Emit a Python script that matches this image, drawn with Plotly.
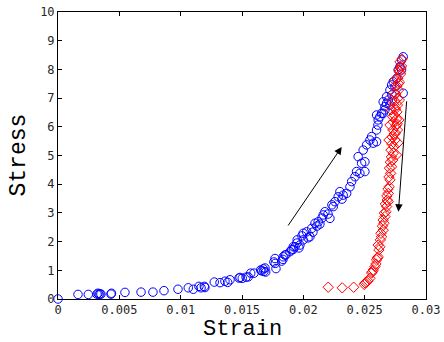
import plotly.graph_objects as go

# Loading branch (blue circles)
load_strain = [0, 0.00163, 0.00247, 0.00318, 0.00326, 0.00334, 0.00342, 0.0035, 0.00436, 0.00432,
    0.00546, 0.00677, 0.00774, 0.00864, 0.00978, 0.01062, 0.01103, 0.01149, 0.01166, 0.01193,
    0.01198, 0.01274, 0.01321, 0.01361, 0.01383, 0.01402, 0.01476, 0.01484, 0.01502, 0.01533,
    0.01551, 0.01571, 0.01598, 0.01652, 0.01661, 0.01674, 0.01687, 0.01693, 0.01679, 0.01771,
    0.01769, 0.01777, 0.0176, 0.01823, 0.01836, 0.0185, 0.01858, 0.01834, 0.01891, 0.01905,
    0.01918, 0.01932, 0.01918, 0.0195, 0.01948, 0.01972, 0.01964, 0.01999, 0.01999, 0.01989,
    0.02027, 0.02054, 0.02038, 0.02068, 0.02078, 0.02095, 0.02121, 0.02111, 0.02135, 0.02162,
    0.02176, 0.02152, 0.02217, 0.02201, 0.02244, 0.02258, 0.02233, 0.02284, 0.02298, 0.02325,
    0.02353, 0.02315, 0.0238, 0.02394, 0.02421, 0.02434, 0.02461, 0.02502, 0.02475, 0.02502,
    0.02447, 0.02488, 0.02516, 0.02543, 0.0257, 0.02557, 0.02597, 0.02597, 0.0261, 0.02597,
    0.02624, 0.02651, 0.02665, 0.02679, 0.02706, 0.02638, 0.02651, 0.02692, 0.02679, 0.02706,
    0.02747, 0.0272, 0.02733, 0.02761, 0.02774, 0.02801, 0.02787, 0.02801, 0.02814, 0.02814,
    0.02722, 0.02665, 0.02608]
load_stress = [0, 0.16, 0.16, 0.17, 0.20, 0.16, 0.18, 0.17, 0.20, 0.17,
    0.23, 0.24, 0.24, 0.29, 0.34, 0.39, 0.34, 0.44, 0.39, 0.44,
    0.40, 0.59, 0.57, 0.62, 0.58, 0.67, 0.73, 0.75, 0.72, 0.76,
    0.77, 0.90, 0.90, 1.01, 0.98, 1.05, 1.08, 0.94, 0.96, 1.24,
    1.41, 1.06, 1.29, 1.32, 1.47, 1.53, 1.54, 1.38, 1.65, 1.71,
    1.73, 1.82, 1.82, 2.06, 1.95, 1.88, 1.78, 2.06, 2.29, 2.20,
    2.34, 2.17, 2.13, 2.46, 2.33, 2.64, 2.69, 2.54, 2.61, 2.93,
    3.04, 2.82, 2.81, 2.96, 3.22, 3.39, 3.28, 3.56, 3.74, 3.62,
    3.68, 3.48, 3.91, 4.09, 4.26, 4.44, 4.38, 4.44, 4.73, 4.78,
    4.96, 5.19, 5.37, 5.54, 5.43, 5.66, 5.48, 5.89, 6.24, 6.41,
    6.35, 6.47, 6.70, 6.82, 6.76, 6.47, 6.87, 6.93, 7.05, 7.28,
    7.40, 7.46, 7.57, 7.69, 7.98, 7.98, 8.09, 8.33, 8.44, 7.17,
    7.11, 6.59, 6.06]

# Unloading branch (red diamonds)
unload_strain = [0.02203, 0.02317, 0.0241, 0.02496, 0.02504, 0.02516, 0.02527, 0.02543, 0.02557, 0.02563,
    0.0257, 0.02584, 0.02592, 0.02597, 0.02604, 0.0261, 0.0261, 0.02616, 0.02624, 0.02628,
    0.02638, 0.02633, 0.02651, 0.02645, 0.02657, 0.02651, 0.02665, 0.02661, 0.02673, 0.02679,
    0.02669, 0.02692, 0.02684, 0.02692, 0.02681, 0.027, 0.0269, 0.02706, 0.02698, 0.02712,
    0.0272, 0.02702, 0.02728, 0.0271, 0.02733, 0.02714, 0.02739, 0.02722, 0.02747, 0.02726,
    0.02751, 0.0273, 0.02755, 0.02734, 0.02759, 0.02739, 0.02763, 0.02743, 0.02767, 0.02747,
    0.02771, 0.02755, 0.02775, 0.02763, 0.02783, 0.02771, 0.02792, 0.02779, 0.028, 0.02788,
    0.02804, 0.02698, 0.02771, 0.02767, 0.02706, 0.02714, 0.02779, 0.02722, 0.02783, 0.02718,
    0.02759, 0.02741, 0.02765, 0.02729, 0.02751, 0.02737, 0.02775, 0.02745, 0.02785, 0.02796]
unload_stress = [0.41, 0.39, 0.41, 0.51, 0.56, 0.59, 0.63, 0.72, 0.91, 0.95,
    1.01, 1.13, 1.22, 1.36, 1.43, 1.47, 1.88, 1.71, 1.82, 2.06,
    2.17, 2.29, 2.40, 2.54, 2.64, 2.75, 2.87, 2.99, 3.04, 3.22,
    3.31, 3.39, 3.45, 3.68, 3.59, 3.91, 3.83, 4.15, 4.25, 4.38,
    4.61, 4.56, 4.84, 4.77, 5.08, 5.19, 5.30, 5.40, 5.54, 5.64,
    5.78, 5.89, 6.03, 6.17, 6.27, 6.41, 6.52, 6.66, 6.76, 6.90,
    7.00, 7.14, 7.28, 7.42, 7.56, 7.70, 7.84, 7.98, 8.12, 8.26,
    8.36, 5.54, 5.44, 5.89, 6.06, 6.59, 6.24, 6.93, 6.93, 4.95,
    5.02, 5.75, 6.10, 6.35, 6.62, 7.20, 7.50, 7.62, 7.92, 8.05]

# Direction arrows: (start strain, start stress, end strain, end stress)
arrow_load = [0.01868, 2.51, 0.02313, 5.30]
arrow_unload = [0.02843, 6.94, 0.02775, 3.04]

x_title = "Strain"
y_title = "Stress"
x_ticks = [0, 0.005, 0.01, 0.015, 0.02, 0.025, 0.03]
x_ticktext = ["0", "0.005", "0.01", "0.015", "0.02", "0.025", "0.03"]
y_ticks = list(range(0, 11))

fig = go.Figure()
fig.add_trace(go.Scatter(x=load_strain, y=load_stress, mode="markers",
    marker=dict(symbol="circle-open", size=8.5, color="#0000ff", line=dict(width=1, color="#0000ff")),
    cliponaxis=False))
fig.add_trace(go.Scatter(x=unload_strain, y=unload_stress, mode="markers",
    marker=dict(symbol="diamond-open", size=8, color="#ff0000", line=dict(width=1, color="#ff0000")),
    cliponaxis=False))

for a in (arrow_load, arrow_unload):
    fig.add_annotation(x=a[2], y=a[3], ax=a[0], ay=a[1], xref="x", yref="y", axref="x", ayref="y",
        text="", showarrow=True, arrowhead=2, arrowsize=1.5, arrowwidth=1, arrowcolor="black")

titlefont = dict(family="Liberation Mono", size=22, color="black")
fig.add_annotation(text=x_title, xref="paper", yref="paper", x=0.5, y=0, xanchor="center",
    yanchor="middle", yshift=-30.5, borderpad=0, showarrow=False, font=titlefont)
fig.add_annotation(text=y_title, xref="paper", yref="paper", x=0, y=0.5, xanchor="center",
    yanchor="middle", xshift=-40, textangle=-90, borderpad=0, showarrow=False,
    font=dict(family="Liberation Mono", size=23, color="black"))

tickfont = dict(family="DejaVu Sans Mono", size=12, color="#262626")
fig.update_layout(
    width=444, height=342, showlegend=False,
    margin=dict(l=58, r=18, t=12, b=43),
    paper_bgcolor="white", plot_bgcolor="white",
    xaxis=dict(range=[0, 0.03], tickvals=x_ticks, ticktext=x_ticktext, ticks="inside", ticklen=4,
        tickcolor="black", showline=True, linecolor="black", linewidth=1, mirror="ticks",
        showgrid=False, zeroline=False, tickfont=tickfont, automargin=False),
    yaxis=dict(range=[0, 10], tickvals=y_ticks, ticks="inside", ticklen=4,
        tickcolor="black", showline=True, linecolor="black", linewidth=1, mirror="ticks",
        showgrid=False, zeroline=False, tickfont=tickfont, automargin=False),
)
fig.write_html("out.html")
